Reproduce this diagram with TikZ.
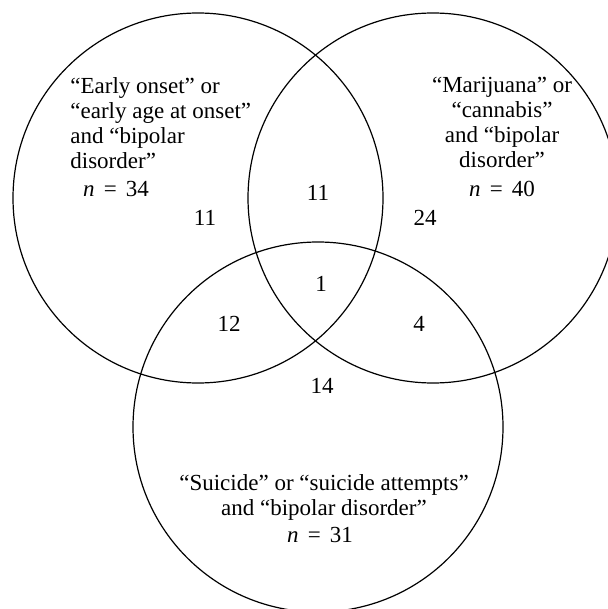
\documentclass[tikz,border=0pt]{standalone}
\usepackage{fontspec}
\setmainfont{Liberation Serif}
\newcommand{\ncount}[1]{\textit{n}\hspace{0.4em}=\hspace{0.4em}#1}
\tikzset{
	setcircle/.style={line width=0.6pt},
	setlabel/.style={inner sep=0pt, align=left},
	countlabel/.style={inner sep=0pt},
}

\begin{document}
\begin{tikzpicture}[x=0.5pt, y=-0.5pt, font=\fontsize{11.5}{12.5}\selectfont]

\useasboundingbox (0,0) rectangle (608,609);

% Set centres
\coordinate (early) at (198,198);
\coordinate (cannabis) at (433,198);
\coordinate (suicide) at (318,427);

% Circles
\begin{scope}
\clip (0,0) rectangle (608,609);
\draw[setcircle] (early) circle [radius=185];
\draw[setcircle] (cannabis) circle [radius=185];
\draw[setcircle] (suicide) circle [radius=185];
\end{scope}

% Early onset
\node [setlabel,
	anchor=north west
]  (earlylabel) at (70,77) {
“Early onset” or\\“early age at onset”\\and “bipolar\\disorder”
};
\node [countlabel, anchor=base] (earlyn) at (116,197) {\ncount{34}};

% Marijuana
\node [setlabel,
	align=center,
	anchor=north
]  (cannabislabel) at (502,77) {
“Marijuana” or\\“cannabis”\\and “bipolar\\disorder”
};
\node [countlabel, anchor=base] (cannabisn) at (502,197) {\ncount{40}};

% Suicide
\node [setlabel,
	align=center,
	anchor=north
]  (suicidelabel) at (324,474) {
“Suicide” or “suicide attempts”\\and “bipolar disorder”
};
\node [countlabel, anchor=base] (suiciden) at (320,542) {\ncount{31}};

% Region counts
\node [countlabel] (onlyearly) at (205,218) {11};
\node [countlabel] (earlycannabis) at (318,193) {11};
\node [countlabel] (onlycannabis) at (425,218) {24};
\node [countlabel] (allthree) at (321,284) {1};
\node [countlabel] (earlysuicide) at (229,324) {12};
\node [countlabel] (cannabissuicide) at (419,324) {4};
\node [countlabel] (onlysuicide) at (322,386) {14};

\end{tikzpicture}
\end{document}
